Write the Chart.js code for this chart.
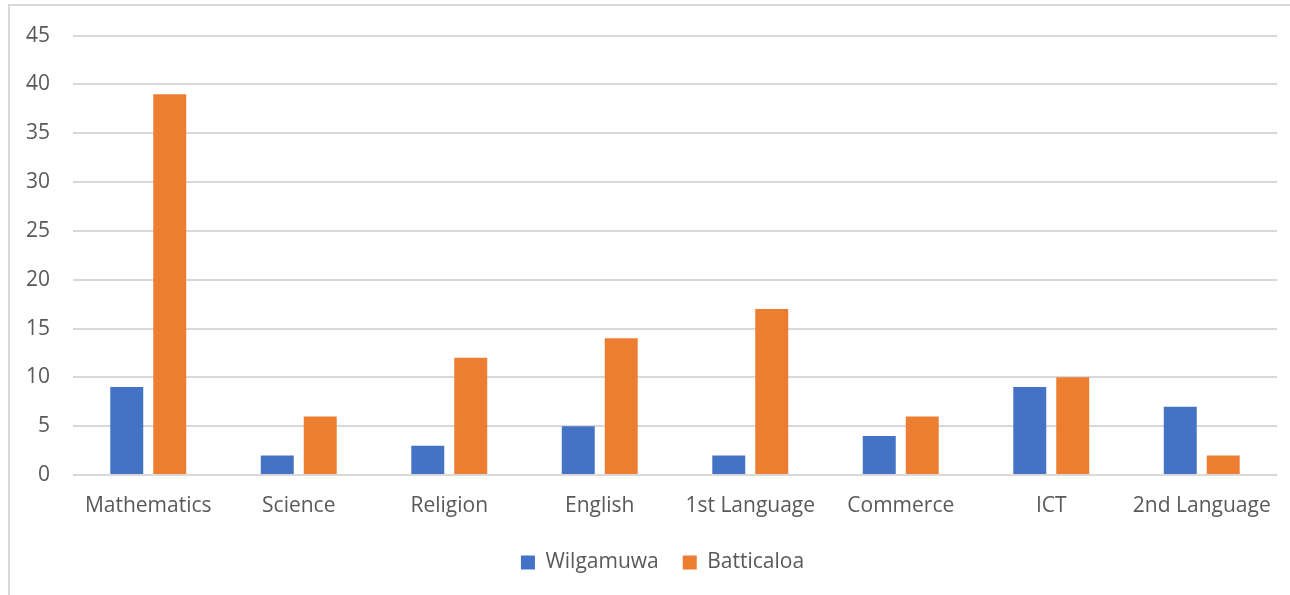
<!DOCTYPE html>
<html>
<head>
<meta charset="utf-8">
<script src="https://cdn.jsdelivr.net/npm/chart.js@4.4.1/dist/chart.umd.min.js"></script>
<style>
  html, body { margin: 0; padding: 0; background: #fff; overflow: hidden; }
  #wrap { position: relative; width: 1290px; height: 595px; overflow: hidden; }
  #frame {
    position: absolute; left: 8px; top: 4px; width: 1400px; height: 700px;
    border: 2px solid #d9d9d9; box-sizing: border-box;
  }
  #myChart { position: absolute; left: 0; top: 0; }
</style>
</head>
<body>
<div id="wrap">
  <div id="frame"></div>
  <canvas id="myChart" width="1290" height="595"></canvas>
</div>
<script>
// Subjects and counts per district
const subjects = ["Mathematics", "Science", "Religion", "English", "1st Language", "Commerce", "ICT", "2nd Language"];
const wilgamuwa = [9, 2, 3, 5, 2, 4, 9, 7];
const batticaloa = [39, 6, 12, 14, 17, 6, 10, 2];
const yTicks = [0, 5, 10, 15, 20, 25, 30, 35, 40, 45];

const textColor = "#595959";
const gridColor = "#d9d9d9";
const font = { family: "'Open Sans', sans-serif", size: 21 };

const chart = document.querySelector("#myChart");

const datasets = [
    {
        label: "Wilgamuwa",
        backgroundColor: "#4472C4",
        data: wilgamuwa,
    },
    {
        label: "Batticaloa",
        backgroundColor: "#ED7D31",
        data: batticaloa,
    },
];

// Nudge the legend a little to the right of the canvas centre
const legendShift = {
    id: "legendShift",
    afterLayout: (c) => {
        if (c.legend) {
            c.legend.left += 24;
            c.legend.right += 24;
        }
    },
};

const config = {
    type: "bar",
    data: { labels: subjects, datasets },
    options: {
        responsive: false,
        animation: false,
        categoryPercentage: 0.571,
        barPercentage: 0.767,
        layout: { padding: { left: 0, right: 13, top: 34, bottom: 12 } },
        scales: {
            x: {
                grid: { display: false, drawTicks: false },
                border: { display: false },
                ticks: { color: textColor, font, padding: 18, maxRotation: 0 },
                afterFit: (scale) => { scale.height = 53; },
            },
            y: {
                min: 0,
                max: 45,
                grid: { color: gridColor, lineWidth: 2, drawTicks: false },
                border: { display: false },
                ticks: { color: textColor, font, padding: 23, stepSize: 5 },
                afterBuildTicks: (scale) => { scale.ticks = yTicks.map((v) => ({ value: v })); },
                afterFit: (scale) => { scale.width = 73; },
            },
        },
        plugins: {
            tooltip: { enabled: false },
            legend: {
                position: "bottom",
                labels: { color: textColor, font, boxWidth: 14, boxHeight: 14, padding: 24 },
            },
        },
    },
    plugins: [legendShift],
};

new Chart(chart, config);
</script>
</body>
</html>
